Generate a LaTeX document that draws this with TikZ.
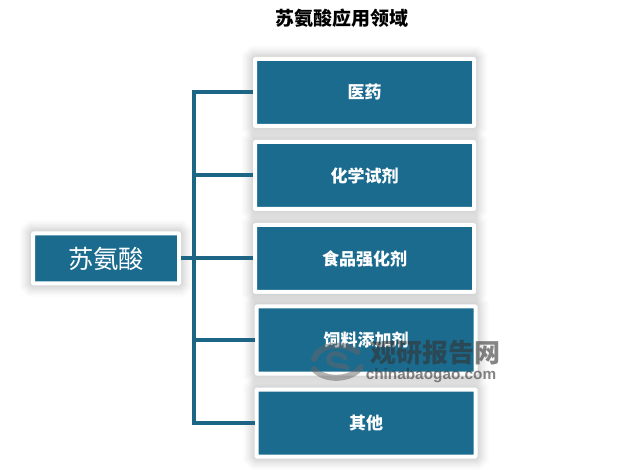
\documentclass[tikz,border=0pt]{standalone}
\usepackage{fontspec}
\setmainfont{Liberation Sans}
\newfontfamily\cjk{Noto Sans CJK SC}
\usetikzlibrary{positioning}
\definecolor{boxteal}{HTML}{1B6B8F}
\definecolor{linkteal}{HTML}{1C6585}
\tikzset{
    boxshadow/.style={
        preaction={draw=black, opacity=0.012, line width=20pt},
        preaction={draw=black, opacity=0.012, line width=18pt},
        preaction={draw=black, opacity=0.014, line width=16pt},
        preaction={draw=black, opacity=0.016, line width=14pt},
        preaction={draw=black, opacity=0.018, line width=12pt},
        preaction={draw=black, opacity=0.02, line width=10pt},
        preaction={draw=black, opacity=0.022, line width=8pt},
        preaction={draw=black, opacity=0.025, line width=6pt},
        preaction={draw=black, opacity=0.025, line width=4.5pt}},
    itembox/.style={boxshadow, draw=white, fill=boxteal, line width=3pt, rounded corners=0.6pt,
        minimum width=164.25pt, minimum height=50.25pt, inner sep=0pt,
        text=white, font=\cjk\bfseries\fontsize{12.75pt}{14pt}\selectfont},
    mainbox/.style={itembox, minimum width=109.5pt, minimum height=37.5pt,
        font=\cjk\fontsize{19pt}{22pt}\selectfont},
    link/.style={draw=linkteal, line width=3pt},
    mark swirl/.style={draw=black!60, opacity=0.5, line cap=round},
    mark text/.style={inner sep=0pt, opacity=0.6, text=black!80}
}
\begin{document}
\begin{tikzpicture}[x=0.75pt, y=-0.75pt]
    \useasboundingbox (0,0) rectangle (621,470);
    \node[font=\cjk\bfseries\fontsize{14.25pt}{16pt}\selectfont, inner sep=0pt] (title) at (341.5,18) {苏氨酸应用领域};
    \coordinate (junction) at (193.5,258.5);
    \node[mainbox] (threonine) at (106,258.5) {苏氨酸};
    \node[itembox] (yiyao) at (364.5,92.5) {医药};
    \node[itembox] (huaxue) at (364.5,175.5) {化学试剂};
    \node[itembox] (shipin) at (364.5,258.5) {食品强化剂};
    \node[itembox] (siliao) at (366,340) {饲料添加剂};
    \node[itembox] (qita) at (366,423) {其他};
    % links
    \foreach \item in {yiyao,huaxue,siliao,qita}
        \draw[link] (\item.west) -| (junction);
    \draw[link] (threonine) -- (shipin);
    % watermark
    \draw[mark swirl, line width=4.5pt] (358,352) .. controls (342,341) and (318,345) .. (314,359);
    \draw[mark swirl, line width=4.5pt] (314,369) .. controls (325,382) and (352,380) .. (361,367);
    \draw[mark swirl, line width=3.5pt] (345,358) .. controls (338,350) and (326,354) .. (329,361)
        .. controls (332,368) and (344,364) .. (347,368);
    \node[mark text, font=\cjk\bfseries\fontsize{19.5pt}{22pt}\selectfont] (marktitle) at (435,353) {观研报告网};
    \node[mark text, font=\bfseries\fontsize{11.5pt}{12pt}\selectfont] (markurl) at (431,376) {chinabaogao.com};
\end{tikzpicture}
\end{document}
